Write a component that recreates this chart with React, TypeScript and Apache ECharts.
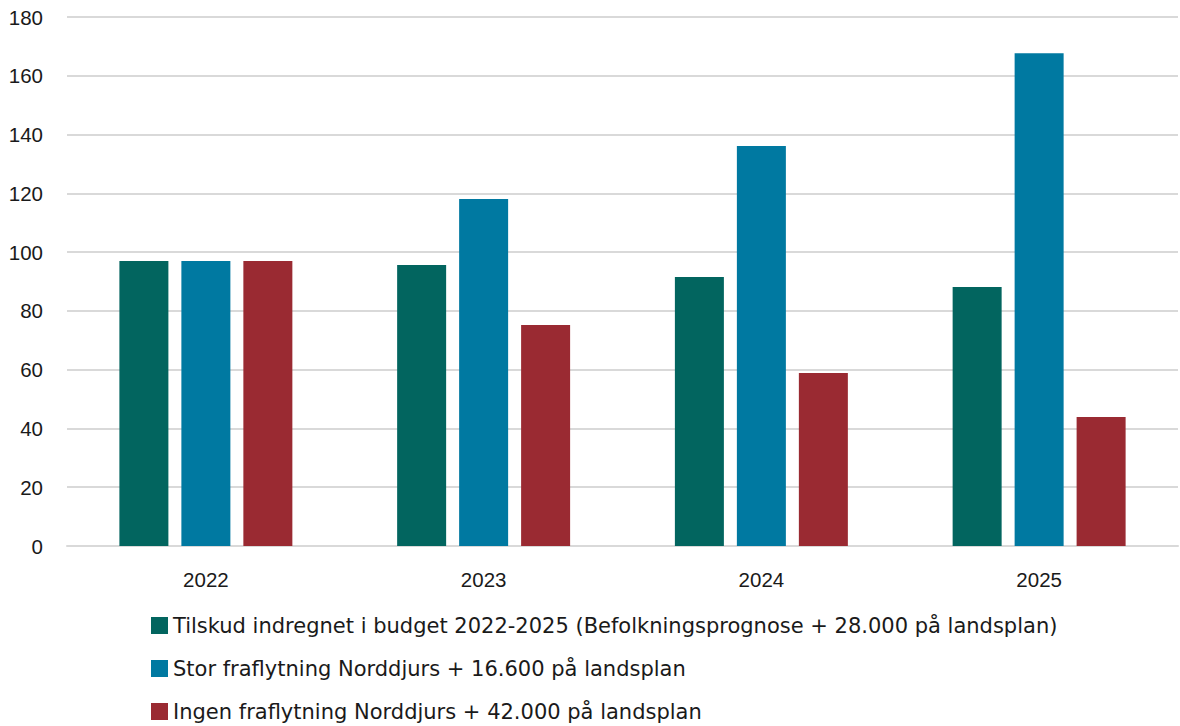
import React, { useEffect, useRef } from "react";
import * as echarts from "echarts";

const categories = ["2022", "2023", "2024", "2025"];
const seriesNames = [
  "Tilskud indregnet i budget 2022-2025 (Befolkningsprognose + 28.000 på landsplan)",
  "Stor fraflytning Norddjurs + 16.600 på landsplan",
  "Ingen fraflytning Norddjurs + 42.000 på landsplan",
];
const tilskud = [97, 95.6, 91.5, 88.1];
const stor = [97, 118.1, 136.1, 167.7];
const ingen = [97, 75.2, 58.9, 43.9];
const colors = ["#02655F", "#0079A1", "#9A2A32"];

const AXIS_FONT = "Liberation Sans";
const LEGEND_FONT = "DejaVu Sans";

export default function App() {
  const ref = useRef<HTMLDivElement>(null);
  useEffect(() => {
    document.body.style.margin = "0";
    const chart = echarts.init(ref.current!, null, { renderer: "svg" });
    const values = [tilskud, stor, ingen];
    chart.setOption({
      animation: false,
      textStyle: { fontFamily: AXIS_FONT, color: "#1a1a1a" },
      grid: { left: 67, right: 2, top: 17, bottom: 180, containLabel: false },
      legend: {
        orient: "vertical",
        left: 151,
        top: 615,
        height: 120,
        padding: 0,
        itemWidth: 17,
        itemHeight: 17,
        itemGap: 22,
        icon: "rect",
        textStyle: { fontFamily: LEGEND_FONT, fontSize: 21, color: "#1a1a1a" },
        data: seriesNames,
      },
      xAxis: {
        type: "category",
        data: categories,
        axisLine: { lineStyle: { color: "#d9d9d9", width: 2 } },
        axisTick: { show: false },
        axisLabel: { fontFamily: AXIS_FONT, fontSize: 20.5, color: "#1a1a1a", margin: 23 },
      },
      yAxis: {
        type: "value",
        min: 0,
        max: 180,
        interval: 20,
        axisLine: { show: false },
        axisTick: { show: false },
        splitLine: { lineStyle: { color: "#d9d9d9", width: 2 } },
        axisLabel: { fontFamily: AXIS_FONT, fontSize: 20.5, color: "#1a1a1a", margin: 24 },
      },
      series: seriesNames.map((name, i) => ({
        name,
        type: "bar",
        data: values[i],
        barWidth: 49,
        barGap: "26.5%",
        itemStyle: { color: colors[i] },
      })),
    });
    return () => chart.dispose();
  }, []);
  return <div ref={ref} style={{ width: 1180, height: 726 }} />;
}
